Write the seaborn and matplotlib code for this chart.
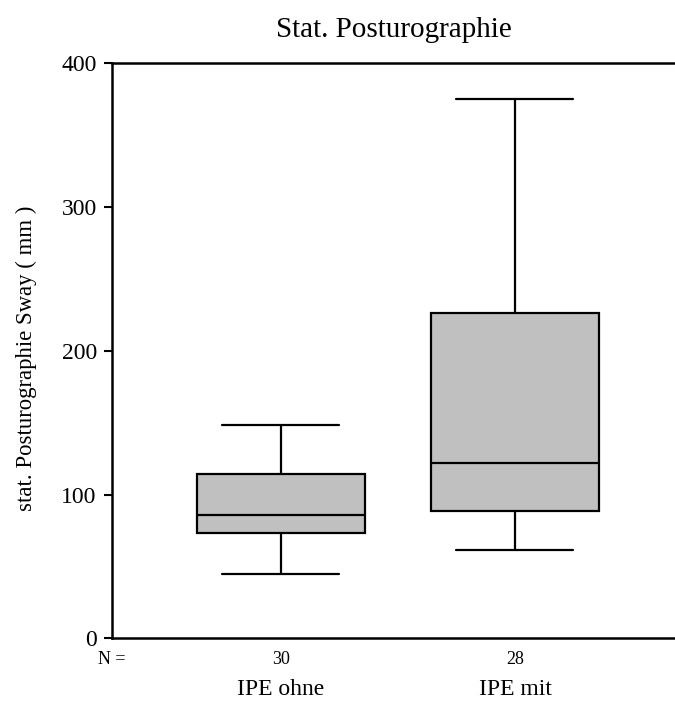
import numpy as np
import pandas as pd
import matplotlib
matplotlib.use("Agg")
import matplotlib.pyplot as plt
import seaborn as sns

groups = ['IPE ohne', 'IPE mit']
n_counts = [30, 28]
# five-number summaries: min, Q1, median, Q3, max
ohne = [45, 73.5, 85.8, 114.3, 148.6]
mit = [61.2, 88.6, 121.7, 226.5, 375.4]

df = pd.DataFrame({
    'Gruppe': [groups[0]] * len(ohne) + [groups[1]] * len(mit),
    'Sway': ohne + mit,
})

sns.set_style("white")
plt.rcParams['font.family'] = ['Liberation Serif', 'DejaVu Serif']
plt.rcParams['text.color'] = 'black'
plt.rcParams['axes.labelcolor'] = 'black'
plt.rcParams['xtick.color'] = 'black'
plt.rcParams['ytick.color'] = 'black'

fig = plt.figure(figsize=(6.75, 7.04), dpi=100)
ax = fig.add_axes([0.166, 0.0933, 0.834, 0.8167])

sns.boxplot(data=df, x='Gruppe', y='Sway', order=groups, whis=(0, 100),
            width=0.715, color='#c0c0c0', saturation=1, linecolor='black',
            linewidth=1.6, showfliers=False, capwidths=0.5, ax=ax)

ax.set_xlim(-0.722, 1.684)
ax.set_ylim(0, 400)
ax.set_yticks([0, 100, 200, 300, 400])
ax.tick_params(axis='y', left=True, length=6, width=1.5, labelsize=17, pad=5)
ax.tick_params(axis='x', bottom=False, labelsize=17, pad=26)
ax.set_xlabel('')
ax.set_ylabel('stat. Posturographie Sway ( mm )', fontsize=16.4)
ax.yaxis.set_label_coords(-0.133, 0.4875)
ax.set_title('Stat. Posturographie', fontsize=21, pad=19)

for s in ['left', 'top', 'bottom']:
    ax.spines[s].set_visible(True)
    ax.spines[s].set_color('black')
    ax.spines[s].set_linewidth(1.8)
ax.spines['right'].set_visible(False)

trans = ax.get_xaxis_transform()
ax.text(0.0, -0.036, 'N =', transform=ax.transAxes, ha='center', va='center', fontsize=13)
for i, n in enumerate(n_counts):
    ax.text(i, -0.036, str(n), transform=trans, ha='center', va='center', fontsize=13)

fig.savefig('out.png', dpi=100)
